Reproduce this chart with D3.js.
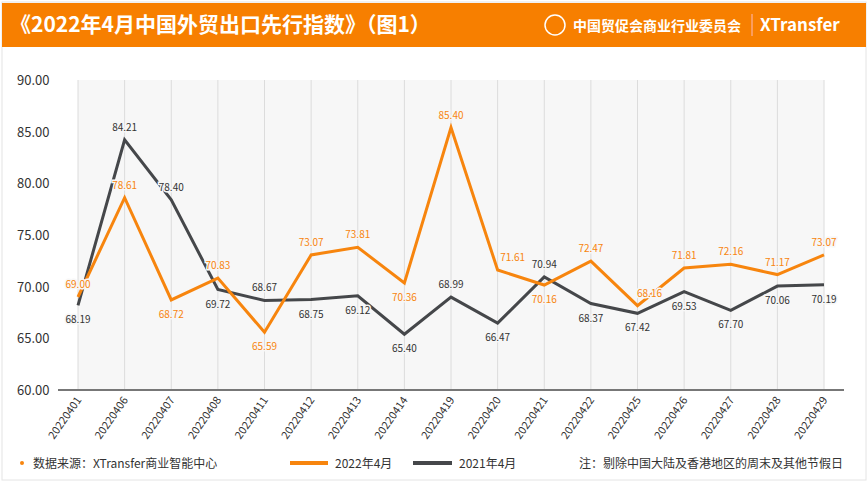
<!DOCTYPE html><html><head><meta charset="utf-8"><script src="https://cdn.jsdelivr.net/npm/d3@7"></script>
<style>body{margin:0;background:#fff;font-family:"Noto Sans CJK SC","Noto Sans",sans-serif}</style></head><body><svg id="c" width="868" height="485"></svg><script>
const categories=["20220401","20220406","20220407","20220408","20220411","20220412","20220413","20220414","20220419","20220420","20220421","20220422","20220425","20220426","20220427","20220428","20220429"];
const s2022=[69.00,78.61,68.72,70.83,65.59,73.07,73.81,70.36,85.40,71.61,70.16,72.47,68.16,71.81,72.16,71.17,73.07];
const s2021=[68.19,84.21,78.40,69.72,68.67,68.75,69.12,65.40,68.99,66.47,70.94,68.37,67.42,69.53,67.70,70.06,70.19];
const above2022=[1,1,0,1,0,1,1,0,1,1,0,1,1,1,1,1,1];
const above2021=[0,1,1,0,1,0,0,0,1,0,1,0,0,0,0,0,0];
const dx2022=[0,0,0,0,0,0,0,0,0,15,0,0,12,0,0,0,0];
const dx2021=[0,0,0,0,0,0,0,0,0,0,0,0,0,0,0,0,0];
const yTicks=[60,65,70,75,80,85,90];
const svg=d3.select("#c");
svg.append("rect").attr("x",0).attr("y",0).attr("width",868).attr("height",485).attr("fill","#fff");
svg.append("rect").attr("x",2).attr("y",2).attr("width",864).attr("height",478).attr("fill","none").attr("stroke","#e4e4e4");
svg.append("rect").attr("x",2).attr("y",3).attr("width",864).attr("height",44).attr("fill","#f77f00");
svg.append("text").attr("x",10).attr("y",32).attr("fill","#fff").attr("font-size",21).attr("font-weight","bold").text("《2022年4月中国外贸出口先行指数》（图1）");
svg.append("circle").attr("cx",555).attr("cy",25).attr("r",10).attr("fill","none").attr("stroke","#fff").attr("stroke-width",1.5);
svg.append("text").attr("x",573).attr("y",31).attr("fill","#fff").attr("font-size",14).attr("font-weight","bold").text("中国贸促会商业行业委员会");
svg.append("line").attr("x1",752).attr("x2",752).attr("y1",14).attr("y2",36).attr("stroke","#fbb");
svg.append("text").attr("x",760).attr("y",31).attr("fill","#fff").attr("font-size",17).attr("font-weight","bold").text("XTransfer");
const x=d3.scalePoint().domain(categories).range([78,824]);
const y=d3.scaleLinear().domain([60,90]).range([390,80]);
svg.append("rect").attr("x",78).attr("y",80).attr("width",746).attr("height",310).attr("fill","#f7f7f7");
svg.selectAll(".vg").data(categories).join("line").attr("x1",d=>x(d)).attr("x2",d=>x(d)).attr("y1",80).attr("y2",390).attr("stroke","#dcdcdc");
svg.append("line").attr("x1",58).attr("x2",844).attr("y1",390).attr("y2",390).attr("stroke","#777").attr("stroke-width",2);
svg.selectAll(".yt").data(yTicks).join("text").attr("x",17).attr("y",d=>y(d)+5).attr("font-size",13).attr("fill","#333").text(d=>d.toFixed(2));
svg.selectAll(".xt").data(categories).join("text").attr("transform",d=>`translate(${x(d)+4},${400}) rotate(-55)`).attr("text-anchor","end").attr("font-size",11).attr("fill","#333").text(d=>d);
const line=d3.line().x((d,i)=>x(categories[i])).y(d=>y(d));
svg.append("path").datum(s2021).attr("d",line).attr("fill","none").attr("stroke","#45474a").attr("stroke-width",3);
svg.append("path").datum(s2022).attr("d",line).attr("fill","none").attr("stroke","#f7850e").attr("stroke-width",3);
function labels(data,ab,dx,col){svg.selectAll(null).data(data).join("text").attr("x",(d,i)=>x(categories[i])+dx[i]).attr("y",(d,i)=>y(d)+(ab[i]?-9:18)).attr("text-anchor","middle").attr("font-size",10).attr("fill",col).attr("stroke","#f7f7f7").attr("stroke-width",3).attr("paint-order","stroke").text(d=>d.toFixed(2));}
labels(s2021,above2021,dx2021,"#333");labels(s2022,above2022,dx2022,"#f7850e");
svg.append("circle").attr("cx",22).attr("cy",463).attr("r",2).attr("fill","#f7850e");
svg.append("text").attr("x",33).attr("y",468).attr("font-size",12).attr("fill","#333").text("数据来源：XTransfer商业智能中心");
svg.append("line").attr("x1",290).attr("x2",328).attr("y1",463).attr("y2",463).attr("stroke","#f7850e").attr("stroke-width",4);
svg.append("text").attr("x",335).attr("y",468).attr("font-size",12).attr("fill","#333").text("2022年4月");
svg.append("line").attr("x1",413).attr("x2",452).attr("y1",463).attr("y2",463).attr("stroke","#45474a").attr("stroke-width",4);
svg.append("text").attr("x",459).attr("y",468).attr("font-size",12).attr("fill","#333").text("2021年4月");
svg.append("text").attr("x",843).attr("y",468).attr("text-anchor","end").attr("font-size",12).attr("fill","#333").text("注：剔除中国大陆及香港地区的周末及其他节假日");
</script></body></html>
